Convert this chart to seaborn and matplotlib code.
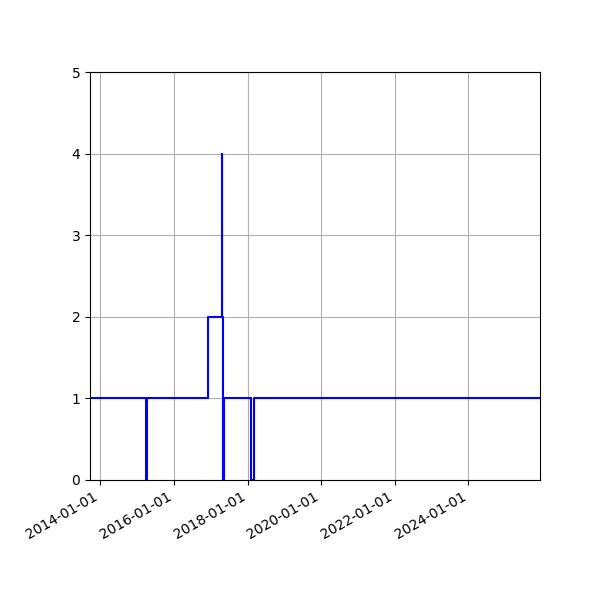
import pandas as pd
import matplotlib
matplotlib.use("Agg")
import matplotlib.pyplot as plt
import matplotlib.dates as mdates
import seaborn as sns

# Step values (value holds until the next date)
dates = ["2013-09-20", "2015-03-27", "2015-04-04", "2016-12-04",
         "2017-04-18", "2017-04-20", "2017-04-29", "2017-05-11",
         "2018-02-02", "2018-03-01", "2025-12-12"]
values = [1, 0, 1, 2, 4, 2, 0, 1, 0, 1, 1]

df = pd.DataFrame({"date": pd.to_datetime(dates), "value": values})

fig, ax = plt.subplots(figsize=(6, 6), dpi=100)
sns.lineplot(data=df, x="date", y="value", ax=ax, color="blue",
             drawstyle="steps-post", estimator=None, linewidth=1.5)

ax.set_xlim(df["date"].min(), df["date"].max())
ax.set_ylim(0, 5)
ax.set_yticks(range(0, 6))
ax.xaxis.set_major_locator(mdates.YearLocator(2))
ax.xaxis.set_major_formatter(mdates.DateFormatter("%Y-%m-%d"))
ax.set_xlabel("")
ax.set_ylabel("")
ax.grid(True)

fig.autofmt_xdate()
fig.subplots_adjust(left=0.15, right=0.9, bottom=0.2, top=0.88)
fig.savefig("out.png")
